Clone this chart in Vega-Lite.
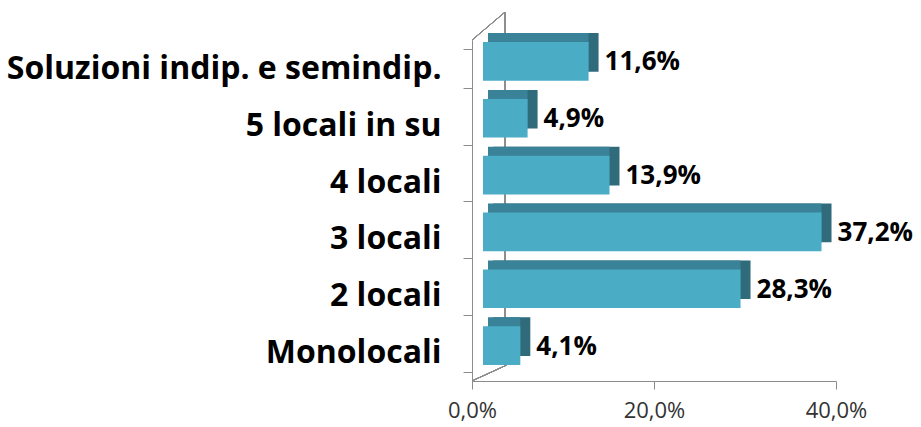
{
  "$schema": "https://vega.github.io/schema/vega-lite/v6.json",
  "autosize": {"type": "none"},
  "width": 364,
  "height": 341,
  "padding": {"left": 472, "top": 40, "right": 85, "bottom": 46},
  "background": "white",
  "config": {
    "view": {"stroke": null},
    "locale": {"number": {"decimal": ",", "thousands": ".", "grouping": [3], "currency": ["€", ""]}}
  },
  "data": {"values": [
    {"cat": "Soluzioni indip. e semindip.", "v": 0.116},
    {"cat": "5 locali in su", "v": 0.049},
    {"cat": "4 locali", "v": 0.139},
    {"cat": "3 locali", "v": 0.372},
    {"cat": "2 locali", "v": 0.283},
    {"cat": "Monolocali", "v": 0.041}
  ]},
  "encoding": {
    "y": {"field": "cat", "type": "nominal", "sort": null,
      "scale": {"domain": ["Soluzioni indip. e semindip.", "5 locali in su", "4 locali", "3 locali", "2 locali", "Monolocali"], "paddingInner": 0.32, "paddingOuter": 0.16},
      "axis": {"title": null, "tickBand": "extent", "domainColor": "#8c8c8c", "tickColor": "#8c8c8c", "tickSize": 9, "labelPadding": 22,
        "labelFont": "Open Sans", "labelFontWeight": "bold", "labelFontSize": 32, "labelColor": "#000000", "labelLimit": 600}}
  },
  "layer": [
    {
      "mark": {"type": "rule", "color": "#8c8c8c", "xOffset": 33, "yOffset": -37, "y2Offset": -7},
      "encoding": {"x": {"datum": 0, "type": "quantitative"},
        "y": {"datum": "Soluzioni indip. e semindip.", "type": "nominal", "bandPosition": 0},
        "y2": {"datum": "Monolocali", "bandPosition": 1}}
    },
    {
      "mark": {"type": "rule", "color": "#8c8c8c", "x2Offset": 33, "yOffset": -9, "y2Offset": -37},
      "encoding": {"x": {"datum": 0, "type": "quantitative"}, "x2": {"datum": 0},
        "y": {"datum": "Soluzioni indip. e semindip.", "type": "nominal", "bandPosition": 0},
        "y2": {"datum": "Soluzioni indip. e semindip.", "bandPosition": 0}}
    },
    {
      "mark": {"type": "rule", "color": "#8c8c8c", "x2Offset": 35, "yOffset": 9, "y2Offset": -7},
      "encoding": {"x": {"datum": 0, "type": "quantitative"}, "x2": {"datum": 0},
        "y": {"datum": "Monolocali", "type": "nominal", "bandPosition": 1},
        "y2": {"datum": "Monolocali", "bandPosition": 1}}
    },
    {
      "mark": {"type": "bar", "color": "#2f6b7a", "xOffset": 21, "x2Offset": 21, "yOffset": -16, "y2Offset": -16},
      "encoding": {"x": {"field": "v", "type": "quantitative"}, "x2": {"datum": 0}}
    },
    {
      "mark": {"type": "bar", "color": "#3a8298", "xOffset": 11, "x2Offset": 16, "yOffset": -16, "y2Offset": -16},
      "encoding": {"x": {"field": "v", "type": "quantitative"}, "x2": {"datum": 0}}
    },
    {
      "mark": {"type": "bar", "color": "#4bacc6", "xOffset": 11, "x2Offset": 11, "yOffset": -7, "y2Offset": -7},
      "encoding": {
        "x": {"field": "v", "type": "quantitative",
          "scale": {"domain": [0, 0.4], "nice": false},
          "axis": {"title": null, "values": [0, 0.2, 0.4], "format": ".1%", "grid": false, "labelFlush": false, "domainColor": "#8c8c8c", "tickColor": "#8c8c8c", "tickSize": 8, "labelPadding": 11,
            "labelFont": "Open Sans", "labelFontSize": 22, "labelColor": "#333333"}},
        "x2": {"datum": 0}
      }
    },
    {
      "mark": {"type": "text", "align": "left", "baseline": "middle", "dx": 27, "dy": -6, "font": "Open Sans", "fontWeight": "bold", "fontSize": 26, "color": "#000000"},
      "encoding": {"x": {"field": "v", "type": "quantitative"}, "text": {"field": "v", "type": "quantitative", "format": ".1%"}}
    }
  ]
}
